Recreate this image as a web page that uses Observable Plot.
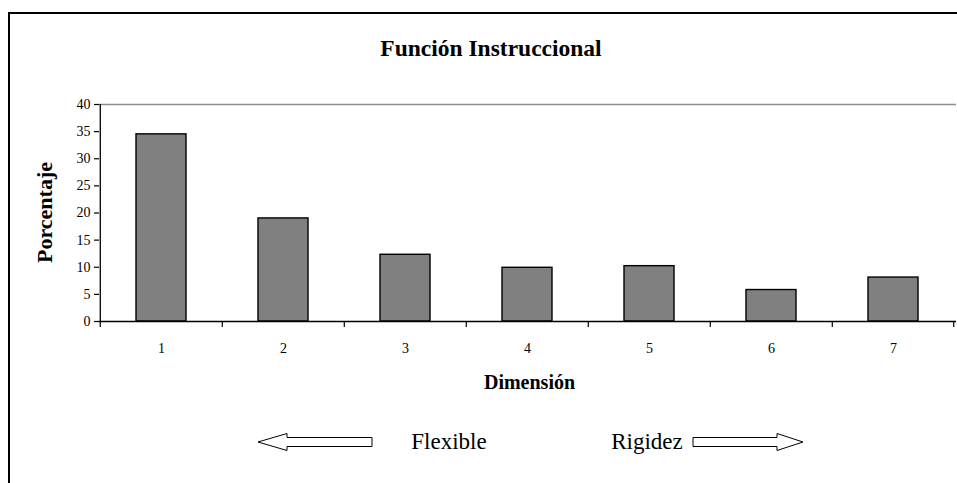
<!DOCTYPE html>
<html>
<head>
<meta charset="utf-8">
<script src="https://cdn.jsdelivr.net/npm/d3@7"></script>
<script src="https://cdn.jsdelivr.net/npm/@observablehq/plot@0.6"></script>
<style>
  html, body { margin: 0; padding: 0; background: #fff; overflow: hidden; }
  #chart svg { display: block; }
  #chart svg text { font-family: 'Liberation Serif', 'Times New Roman', serif; }
</style>
</head>
<body>
<div id="chart"></div>
<script>
// ---- data ----
const dimensions = ["1", "2", "3", "4", "5", "6", "7"];
const porcentaje = [34.5, 19.0, 12.3, 9.9, 10.2, 5.8, 8.1];
const yTicks = [0, 5, 10, 15, 20, 25, 30, 35, 40];
const title = "Función Instruccional";
const yLabel = "Porcentaje";
const xLabel = "Dimensión";
const leftWord = "Flexible";
const rightWord = "Rigidez";

const data = dimensions.map((d, i) => ({dim: d, value: porcentaje[i]}));

// ---- layout ----
const W = 957, H = 483;
const mL = 99, mR = 1, mT = 104, mB = 162;
const step = (W - mL - mR) / dimensions.length;
const font = "'Liberation Serif', 'Times New Roman', serif";

const chart = Plot.plot({
  width: W,
  height: H,
  marginLeft: mL,
  marginRight: mR,
  marginTop: mT,
  marginBottom: mB,
  style: `font-family: ${font}; font-size: 14px; color: #000; background: #fff;`,
  x: {domain: dimensions, paddingInner: 0.59, paddingOuter: 0.295, label: null},
  y: {domain: [0, 40], label: null},
  marks: [
    Plot.ruleY([40], {stroke: "#8c8c8c", strokeWidth: 1.5}),
    Plot.barY(data, {x: "dim", y: "value", fill: "#808080", stroke: "#000", strokeWidth: 1.4}),
    Plot.ruleY([0], {stroke: "#000", strokeWidth: 1.3}),
    Plot.ruleX(dimensions, {x: d => d, y1: 0, y2: 0, dx: -step / 2, insetBottom: -6, stroke: "#000", strokeWidth: 1.2}),
    Plot.ruleX([dimensions[dimensions.length - 1]], {x: d => d, y1: 0, y2: 0, dx: step / 2 - 1, insetBottom: -6, stroke: "#000", strokeWidth: 1.2}),
    Plot.axisY({ticks: yTicks, tickSize: 5, tickPadding: 4, tickFormat: d => d, label: null, stroke: "#000", strokeWidth: 1.2, fontFamily: font, fontSize: 14}),
    Plot.ruleX([0], {x: () => dimensions[0], dx: -step / 2, y1: 0, y2: 40, stroke: "#000", strokeWidth: 1.3}),
    Plot.axisX({tickSize: 0, tickPadding: 22, label: null, fontFamily: font, fontSize: 14})
  ]
});

document.getElementById("chart").appendChild(chart);

// ---- decorations ----
const svg = d3.select(chart);

// outer frame: top and left edges (right/bottom fall outside the picture)
svg.append("line")
  .attr("x1", 8).attr("y1", 13).attr("x2", W).attr("y2", 13)
  .attr("stroke", "#000").attr("stroke-width", 2);
svg.append("line")
  .attr("x1", 9).attr("y1", 12).attr("x2", 9).attr("y2", H)
  .attr("stroke", "#000").attr("stroke-width", 2);

svg.append("text")
  .attr("x", 491).attr("y", 56)
  .attr("text-anchor", "middle")
  .attr("font-family", font).attr("font-weight", "bold").attr("font-size", 23.5)
  .text(title);

svg.append("text")
  .attr("transform", `translate(52, ${(mT + (H - mB)) / 2}) rotate(-90)`)
  .attr("text-anchor", "middle")
  .attr("font-family", font).attr("font-weight", "bold").attr("font-size", 22)
  .text(yLabel);

svg.append("text")
  .attr("x", (mL + W - mR) / 2 + 2).attr("y", 389)
  .attr("text-anchor", "middle")
  .attr("font-family", font).attr("font-weight", "bold").attr("font-size", 20)
  .text(xLabel);

const ay = 442;
svg.append("path")
  .attr("d", `M258,${ay} L287,${ay - 8.5} L287,${ay - 4.5} L372,${ay - 4.5} L372,${ay + 4.5} L287,${ay + 4.5} L287,${ay + 8.5} Z`)
  .attr("fill", "#fff").attr("stroke", "#000").attr("stroke-width", 1);
svg.append("path")
  .attr("d", `M803,${ay} L777,${ay - 8.5} L777,${ay - 4.5} L693,${ay - 4.5} L693,${ay + 4.5} L777,${ay + 4.5} L777,${ay + 8.5} Z`)
  .attr("fill", "#fff").attr("stroke", "#000").attr("stroke-width", 1);

svg.append("text")
  .attr("x", 449).attr("y", ay + 7)
  .attr("text-anchor", "middle")
  .attr("font-family", font).attr("font-size", 23)
  .text(leftWord);

svg.append("text")
  .attr("x", 647).attr("y", ay + 7)
  .attr("text-anchor", "middle")
  .attr("font-family", font).attr("font-size", 23)
  .text(rightWord);
</script>
</body>
</html>
